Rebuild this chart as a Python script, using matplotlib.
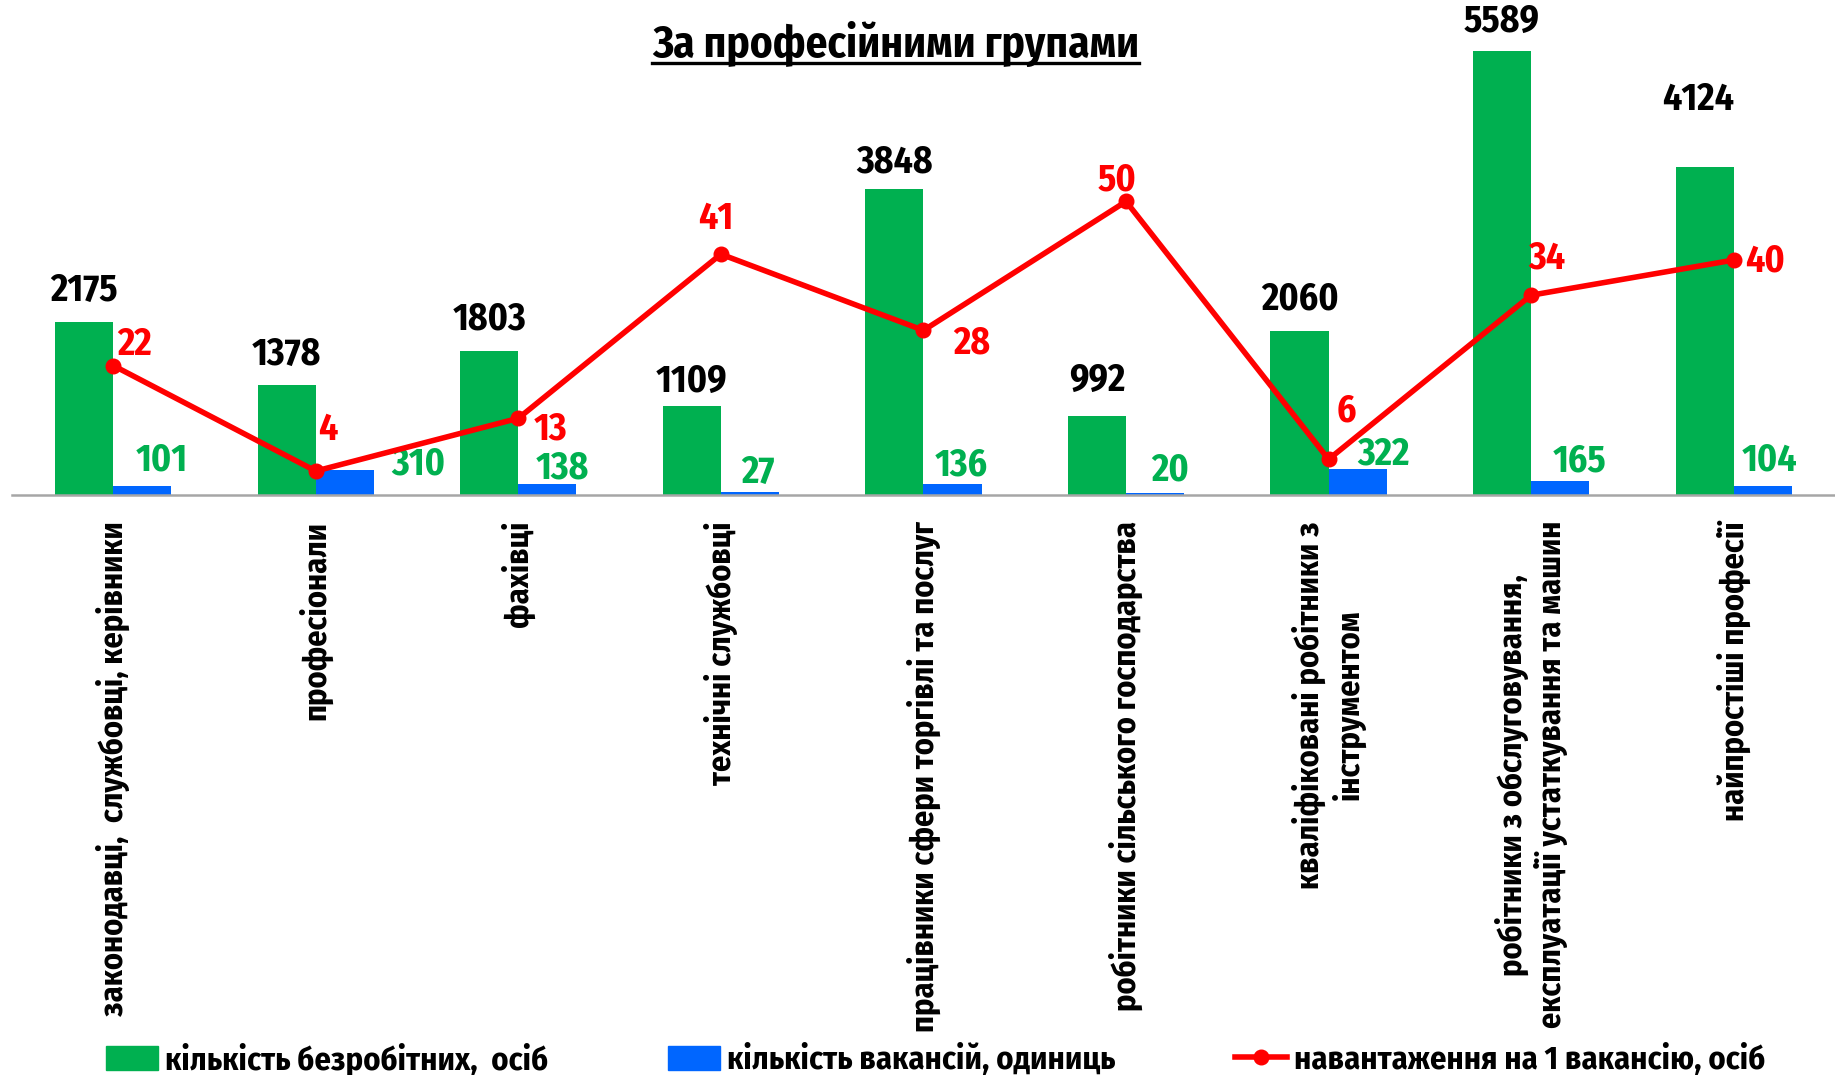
import matplotlib
matplotlib.use("Agg")
import matplotlib.pyplot as plt
import numpy as np
from matplotlib.lines import Line2D
from matplotlib.patches import Patch

plt.rcParams['font.family'] = ['Fira Sans Condensed', 'DejaVu Sans']
plt.rcParams['font.weight'] = 'bold'

categories = [
    "законодавці,  службовці, керівники",
    "професіонали",
    "фахівці",
    "технічні службовці",
    "працівники сфери торгівлі та послуг",
    "робітники сільського господарства",
    "кваліфіковані робітники з\nінструментом",
    "робітники з обслуговування,\nексплуатації устаткування та машин",
    "найпростіші професії",
]
unemployed = [2175, 1378, 1803, 1109, 3848, 992, 2060, 5589, 4124]
vacancies = [101, 310, 138, 27, 136, 20, 322, 165, 104]
load = [22, 4, 13, 41, 28, 50, 6, 34, 40]

GREEN = "#00B050"
BLUE = "#0066FF"
RED = "#FF0000"

# label offsets in pixels (hand-placed like in the original)
black_off = [(0, 31), (0, 30), (0, 32), (0, 25), (0, 27), (0, 35), (0, 32), (0, 29), (-7, 67)]
vac_off = [(20, 26), (73, 6), (15, 15), (8, 20), (9, 18), (15, 23), (26, 15), (19, 20), (7, 26)]
load_off = [(21, 21), (12, 41), (32, -11), (-5, 35), (48, -13), (-9, 21), (18, 48), (16, 37), (31, -1)]

fig = plt.figure(figsize=(18.35, 10.75), dpi=100)
ax = fig.add_axes([0.0065, 0.54, 0.9935, 0.458])
ax2 = ax.twinx()

x = np.arange(len(categories))
w = 0.287
ax.bar(x - w / 2, unemployed, width=w, color=GREEN)
ax.bar(x + w / 2, vacancies, width=w, color=BLUE)
ax.set_xlim(-0.5, len(categories) - 0.5)
ax.set_ylim(0, 6200)
ax2.set_ylim(0, 84)

ax2.plot(x, load, color=RED, linewidth=4, marker="o", markersize=10.5)

for i in range(len(categories)):
    ax.annotate(str(unemployed[i]), (x[i] - w / 2, unemployed[i]), xytext=black_off[i],
                textcoords="offset pixels", ha="center", va="center",
                fontsize=27, fontweight="bold", color="black")
    ax.annotate(str(vacancies[i]), (x[i] + w / 2, vacancies[i]), xytext=vac_off[i],
                textcoords="offset pixels", ha="center", va="center",
                fontsize=27, fontweight="bold", color=GREEN)
    ax2.annotate(str(load[i]), (x[i], load[i]), xytext=load_off[i],
                 textcoords="offset pixels", ha="center", va="center",
                 fontsize=27, fontweight="bold", color=RED)

for a in (ax, ax2):
    for s in a.spines.values():
        s.set_visible(False)
    a.set_yticks([])
ax.spines["bottom"].set_visible(True)
ax.spines["bottom"].set_color("#A6A6A6")
ax.spines["bottom"].set_linewidth(1.8)
ax.set_xticks(x)
ax.set_xticklabels(categories, rotation=90, fontsize=23.3, fontweight="bold",
                   ha="center", va="top", multialignment="center")
ax.tick_params(axis="x", length=0, pad=19)

title = fig.text(0.488, 0.959, "За професійними групами", ha="center", va="center",
                 fontsize=31, fontweight="bold")
# underline for the title
fig.canvas.draw()
bb = title.get_window_extent()
fig.add_artist(Line2D([bb.x0 / fig.bbox.width, bb.x1 / fig.bbox.width],
                      [(bb.y0 + 4) / fig.bbox.height] * 2, color="black", linewidth=2.4))

handles = [
    Patch(color=GREEN, label="кількість безробітних,  осіб"),
    Patch(color=BLUE, label="кількість вакансій, одиниць"),
    Line2D([], [], color=RED, linewidth=4, marker="o", markersize=10.5,
           label="навантаження на 1 вакансію, осіб"),
]
fig.legend(handles=handles, loc="center", bbox_to_anchor=(0.51, 0.0145), ncol=3,
           frameon=False, prop={"size": 23.4, "weight": "bold"},
           handlelength=1.6, handleheight=0.8, handletextpad=0.2, columnspacing=3.7)

fig.savefig("out.png", dpi=100)
